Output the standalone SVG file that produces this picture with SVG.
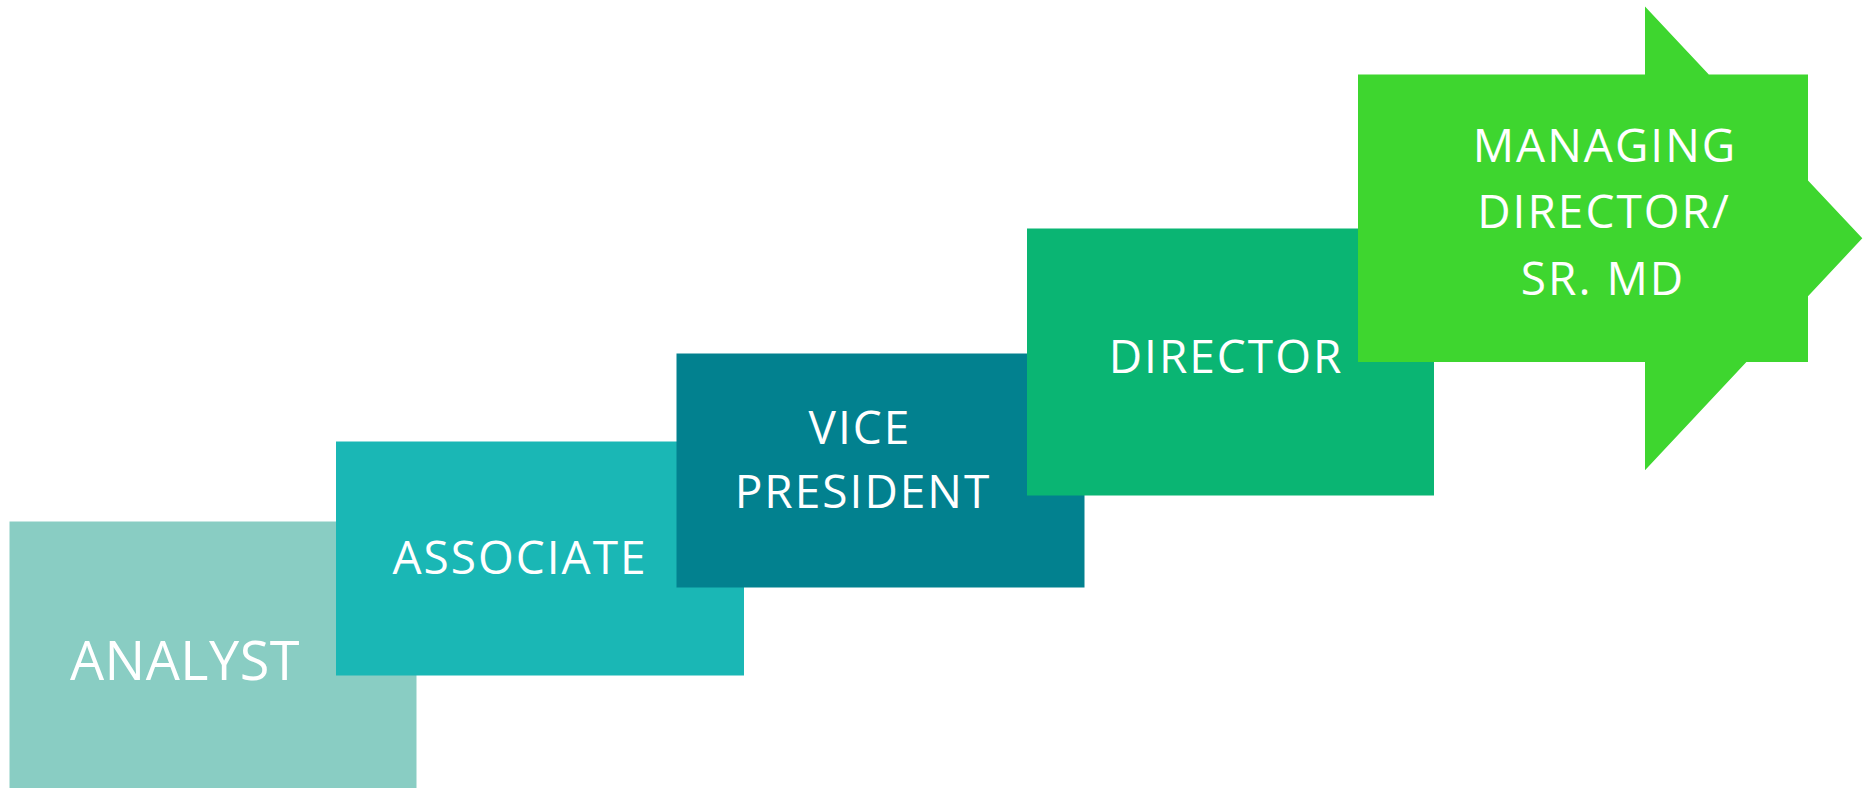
<svg xmlns="http://www.w3.org/2000/svg" width="1870" height="788" viewBox="0 0 1870 788">
<style>
.lbl{font-family:"Open Sans","Liberation Sans",sans-serif;fill:#ffffff;text-anchor:middle;font-size:46px;letter-spacing:2px}
.big{font-size:54px;letter-spacing:0.5px}
</style>
<rect width="1870" height="788" fill="#ffffff"/>
<g id="connectors"></g>
<g id="analyst">
<rect x="9.5" y="521.5" width="407" height="267" fill="#89CDC3"/>
<text class="lbl big" x="185" y="680">ANALYST</text>
</g>
<g id="associate">
<rect x="336" y="441.5" width="408" height="234" fill="#1AB7B5"/>
<text class="lbl" x="520" y="574.3">ASSOCIATE</text>
</g>
<g id="vice-president">
<rect x="676.5" y="353.5" width="408" height="234" fill="#02818F"/>
<text class="lbl" x="860" y="444">VICE</text>
<text class="lbl" x="863" y="508.3">PRESIDENT</text>
</g>
<g id="director">
<rect x="1027" y="228.5" width="407" height="267" fill="#0AB573"/>
<text class="lbl" x="1226" y="372.7">DIRECTOR</text>
</g>
<g id="managing-director">
<polygon points="1358,74.5 1645,74.5 1645,6.4 1708.8,74.5 1808,74.5 1808,180.4 1862.3,238.3 1808,296.2 1808,362 1746.4,362 1645,470.2 1645,362 1358,362" fill="#3ED62F"/>
<text class="lbl" x="1605" y="161.7">MANAGING</text>
<text class="lbl" x="1604" y="228.3">DIRECTOR/</text>
<text class="lbl" x="1603" y="295">SR. MD</text>
</g>
</svg>
